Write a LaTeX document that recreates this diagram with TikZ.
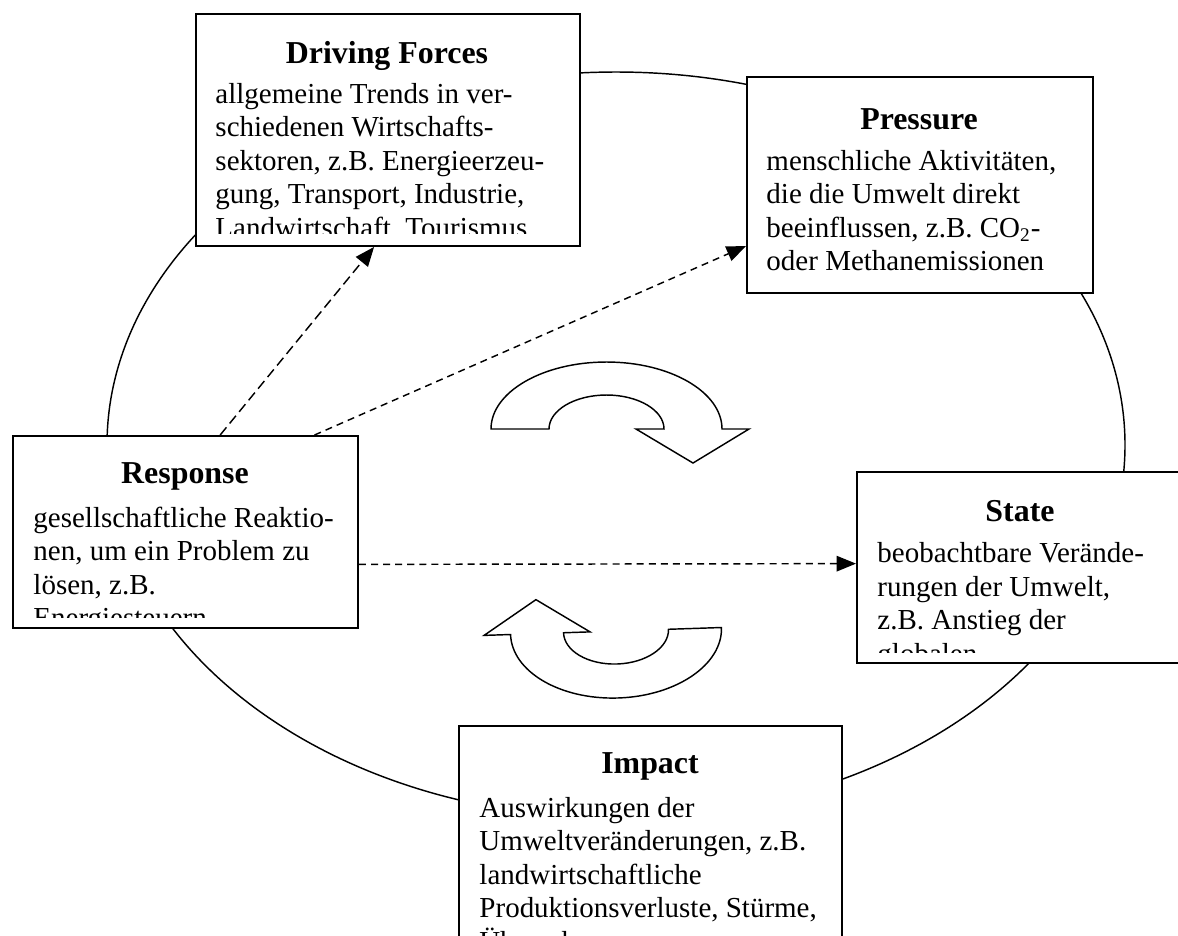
\documentclass[tikz,border=0pt]{standalone}
\usepackage{fontspec}
\setmainfont{Liberation Serif}
\usetikzlibrary{arrows.meta,calc}

\newcommand{\px}{0.414pt}

\tikzset{
  box/.style={draw, line width=0.8pt, fill=white, rectangle, anchor=north west, inner sep=0pt},
  boxhead/.style={font=\fontsize{13.2}{15}\selectfont\bfseries, anchor=base, inner sep=0pt},
  boxtext/.style={font=\fontsize{12}{13.85}\selectfont, anchor=base west, align=left, inner sep=0pt},
  link/.style={line width=0.6pt, -{Triangle[length=8pt,width=6.4pt]}},
  turn/.style={draw, line width=0.6pt, fill=white},
}

\begin{document}
\begin{tikzpicture}[x=\px,y=-\px]
    \useasboundingbox (0,0) rectangle (1178,935);
    \draw[line width=0.6pt] (616,445) ellipse[x radius=509*\px, y radius=373*\px];

    \node[box, minimum width=384*\px, minimum height=232*\px] (drive) at (195,13) {};
    \node[box, minimum width=346*\px, minimum height=216*\px] (press) at (746,76) {};
    \node[box, minimum width=345*\px, minimum height=192*\px] (resp) at (12,435) {};
    \node[box, minimum width=328*\px, minimum height=191*\px] (state) at (856,471) {};
    \node[box, minimum width=383*\px, minimum height=260*\px] (impact) at (458,725) {};

    % text nodes sit on the baseline of their last line
    \begin{scope}
        \clip (197,15) rectangle (577,233);
        \node[boxhead] (drivehead) at (387,63) {Driving Forces};
        \node[boxtext] (drivetext) at (215,237) {allgemeine Trends in ver-\\schiedenen Wirtschafts-\\sektoren, z.B. Energieerzeu-\\gung, Transport, Industrie,\\Landwirtschaft, Tourismus};
    \end{scope}
    \begin{scope}
        \clip (748,78) rectangle (1090,290);
        \node[boxhead] (presshead) at (919,129) {Pressure};
        \node[boxtext] (presstext) at (766,270.5) {menschliche Aktivitäten,\\die die Umwelt direkt\\beeinflussen, z.B. CO\textsubscript{2}-\\oder Methanemissionen};
    \end{scope}
    \begin{scope}
        \clip (14,437) rectangle (355,617);
        \node[boxhead] (resphead) at (185,483) {Response};
        \node[boxtext] (resptext) at (33,627.5) {gesellschaftliche Reaktio-\\nen, um ein Problem zu\\lösen, z.B.\\Energiesteuern};
    \end{scope}
    \begin{scope}
        \clip (858,473) rectangle (1178,652);
        \node[boxhead] (statehead) at (1020,521) {State};
        \node[boxtext] (statetext) at (877,663) {beobachtbare Verände-\\rungen der Umwelt,\\z.B. Anstieg der\\globalen};
    \end{scope}
    \begin{scope}
        \clip (460,727) rectangle (839,935);
        \node[boxhead] (impacthead) at (650,773) {Impact};
        \node[boxtext] (impacttext) at (479,951) {Auswirkungen der\\Umweltveränderungen, z.B.\\landwirtschaftliche\\Produktionsverluste, Stürme,\\Überschwemmungen};
    \end{scope}

    \draw[link, dash pattern=on 4.1pt off 2.1pt] ($(resp.north west)!0.6!(resp.north east)$) -- ($(drive.south west)!0.464!(drive.south east)$);
    \draw[link, dash pattern=on 2.9pt off 2.1pt] ($(resp.north west)!0.872!(resp.north east)$) -- ($(press.north west)!0.78!(press.south west)$);
    \draw[link, dash pattern=on 2.9pt off 2.1pt] ($(resp.north east)!0.667!(resp.south east)$) -- ($(state.north west)!0.48!(state.south west)$);

    \path[turn] (491,429) arc[start angle=180, end angle=0, x radius=115.5*\px, y radius=67*\px]
        -- (749,429) -- (693,463) -- (636,429) -- (664,429)
        arc[start angle=0, end angle=180, x radius=57.5*\px, y radius=34*\px] -- cycle;
    \begin{scope}[rotate around={1.9:(616,631)}]
        \path[turn] (721.5,631) arc[start angle=0, end angle=-180, x radius=105.5*\px, y radius=67*\px]
            -- (484,631) -- (537,597) -- (590,631) -- (563.5,631)
            arc[start angle=180, end angle=360, x radius=52.5*\px, y radius=33*\px] -- cycle;
    \end{scope}
\end{tikzpicture}
\end{document}
